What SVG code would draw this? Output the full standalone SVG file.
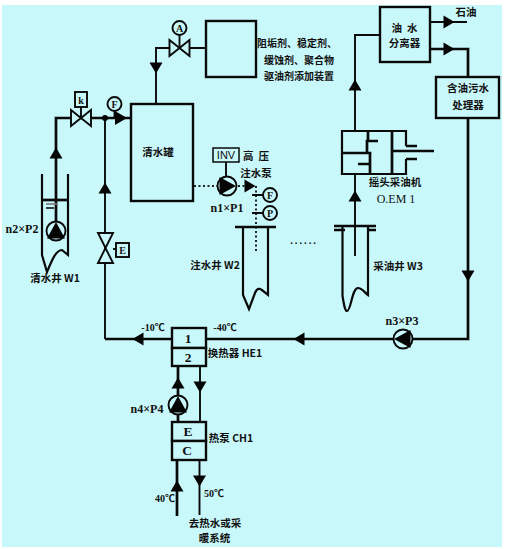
<svg xmlns="http://www.w3.org/2000/svg" xmlns:xlink="http://www.w3.org/1999/xlink" width="505" height="549" viewBox="0 0 505 549">
<style>
.l{fill:none;stroke:#0a0a0a;stroke-width:1.9}
.t{fill:none;stroke:#0a0a0a;stroke-width:2.7}
.w{fill:none;stroke:#0a0a0a;stroke-width:2.2}
.b{fill:#c9f8fa;stroke:#0a0a0a;stroke-width:2.4}
.c{fill:#c9f8fa;stroke:#0a0a0a;stroke-width:1.9}
.d{fill:none;stroke:#222;stroke-width:2;stroke-dasharray:2 2.5}
.a{fill:#050505}
text{font-family:"Noto Sans CJK SC","Liberation Serif",serif;font-size:10.5px;font-weight:700;fill:#111;text-anchor:middle}
.s{font-family:"Liberation Serif","Noto Sans CJK SC",serif}
.n{font-size:12px}
.g{font-size:10px}
.h{font-size:13.5px}
</style>
<defs>
<path id="ah" class="a" d="M-5.500,-6.500L5.500,0L-5.500,6.500Z"/>
<path id="valve" class="c" d="M-10,-8L10,8V-8L-10,8Z"/>
<g id="pump"><circle r="9.500" class="c"/><path class="a" d="M-7.500,-9L9,0L-7.500,9Z"/></g>
</defs>
<rect width="505" height="549" fill="#fff"/>
<rect x="2" y="5" width="500" height="542" fill="#c9f8fa"/>
<g id="connectors">
<path class="l" d="M206,48H156V104"/>
<path class="t" d="M131,118H56V225"/>
<path class="l" d="M105,118V339"/>
<path class="t" d="M172,339H105M206,339H468V118"/>
<path class="t" d="M430,49H468V77"/>
<path class="l" d="M430,22H467"/>
<path class="l" d="M380,35H355V131M355,174V256"/>
<path class="t" d="M178,366V422M177,460V516"/>
<path class="l" d="M200,366V422M199.500,460V515"/>
<path class="d" d="M194,186H217M238,186H246M256,186V252"/>
<path class="l" d="M226,162V176M252,195H263M252,213H263"/>
<use href="#ah" transform="translate(156,68) rotate(90)"/>
<path class="a" d="M115,111L127,118L115,125Z"/>
<use href="#ah" transform="translate(56,153) rotate(-90)"/>
<use href="#ah" transform="translate(105,188) rotate(-90)"/>
<use href="#ah" transform="translate(138,339) rotate(180)"/>
<use href="#ah" transform="translate(299,339) rotate(180)"/>
<use href="#ah" transform="translate(468,276) rotate(90)"/>
<use href="#ah" transform="translate(449,22)"/>
<use href="#ah" transform="translate(449,49)"/>
<use href="#ah" transform="translate(355,85) rotate(-90)"/>
<use href="#ah" transform="translate(355,196) rotate(-90)"/>
<use href="#ah" transform="translate(250,186)"/>
<use href="#ah" transform="translate(178,383) rotate(-90)"/>
<use href="#ah" transform="translate(200,387) rotate(90)"/>
<use href="#ah" transform="translate(177,486) rotate(-90)"/>
<use href="#ah" transform="translate(199.500,481) rotate(90)"/>
<circle cx="105" cy="118" r="3" class="a"/>
</g>
<g id="additive-box"><rect x="206" y="21" width="50" height="56" class="b"/>
<text class="g" x="297" y="47">阻垢剂、稳定剂、</text><text class="g" x="299" y="64">缓蚀剂、聚合物</text><text class="g" x="299" y="80">驱油剂添加装置</text></g>
<g id="valve-a"><use href="#valve" transform="translate(179.500,48)"/><path class="l" d="M179.500,35V48"/><circle cx="179.500" cy="28" r="7" class="c"/><text class="s g" x="179.500" y="32">A</text></g>
<g id="valve-k"><use href="#valve" transform="translate(81,118)"/><path class="l" d="M81,107V118"/><rect x="75" y="92" width="12" height="15" class="c"/><text class="s g" x="81" y="104">k</text></g>
<g id="gauge-f1"><circle cx="114.500" cy="104" r="7" class="c"/><path class="l" d="M114.500,111V118"/><text class="s g" x="114.500" y="108">F</text></g>
<g id="tank"><rect x="131" y="104" width="62" height="97" class="b"/><text x="158" y="156">清水罐</text></g>
<g id="well-w1"><path class="w" d="M42,174V255L47,272C52,260 56,250 62,250L68,255V174"/><path class="t" d="M42,200H68"/><path d="M46,204H58" stroke="#777" stroke-width="1.600"/><path d="M46,208H54" stroke="#111" stroke-width="1.600"/><use href="#pump" transform="translate(56,231) rotate(-90)"/><text x="55" y="282">清水井 W1</text><text class="s n" x="22" y="233">n2×P2</text></g>
<g id="valve-e"><path class="c" d="M98,233H113L98,263H113Z"/><path class="l" d="M113,249H116"/><rect x="116" y="243" width="13" height="14" class="c"/><text class="s g" x="122.500" y="254">E</text></g>
<g id="pump-p1"><rect x="213" y="148" width="26" height="14" class="c" style="stroke-width:1.500"/><text x="226" y="159" style="font-family:'Liberation Sans',sans-serif;font-weight:400;font-size:11px">INV</text><use href="#pump" transform="translate(227,186)"/><text class="s n" x="227" y="212">n1×P1</text><text x="256" y="160" xml:space="preserve">高  压</text><text x="256" y="177">注水泵</text></g>
<g id="gauge-f2"><circle cx="270" cy="195" r="7" class="c"/><text class="s g" x="270" y="199">F</text></g>
<g id="gauge-p"><circle cx="270" cy="213" r="7" class="c"/><text class="s g" x="270" y="217">P</text></g>
<g id="well-w2"><path class="t" d="M235,227H276"/><path class="w" d="M268,227V295C262,290 258,285 255,293L249,309L243,295V227"/><text x="215" y="269">注水井 W2</text></g>
<text class="s" x="304" y="244" style="letter-spacing:2px">......</text>
<g id="well-w3"><path class="t" d="M334,226H376M334,230H345M367,230H376"/><path class="w" d="M342.500,226V296C344,305 345,311 347,311C351,311 352,288 358,288C362,288 364,292 368,295V226"/><text x="398" y="270">采油井 W3</text></g>
<g id="oem"><path class="w" d="M406,146V131H342V174H406V159"/>
<path class="t" d="M368,131V141H367V153H370V174M367,141H378M342,153H368M358,164H370M392,131V174"/>
<path class="t" d="M406,146H417M406,159H417"/><path class="t" d="M392,151H434"/>
<text x="395" y="186">摇头采油机</text><text class="s n" x="396" y="203" style="font-weight:400">O.EM 1</text></g>
<g id="separator"><rect x="380" y="7" width="50" height="55" class="b"/><text x="404.500" y="32" xml:space="preserve">油  水</text><text x="404.500" y="47">分离器</text><text x="466" y="16">石油</text></g>
<g id="processor"><rect x="436" y="77" width="63" height="41" class="b"/><text x="468" y="92">含油污水</text><text x="468" y="109">处理器</text></g>
<g id="pump-p3"><use href="#pump" transform="translate(403,339) rotate(180)"/><text class="s n" x="402" y="325">n3×P3</text></g>
<g id="he1"><rect x="172" y="328" width="34" height="20" class="b"/><rect x="172" y="348" width="34" height="18" class="b"/><text class="s h" x="188" y="343">1</text><text class="s h" x="188" y="362">2</text><text x="235" y="357">换热器 HE1</text><text class="s g" x="153" y="331">-10℃</text><text class="s g" x="225" y="331">-40℃</text></g>
<g id="pump-p4"><use href="#pump" transform="translate(178,405) rotate(-90)"/><text class="s n" x="147" y="413">n4×P4</text></g>
<g id="ch1"><rect x="172" y="422" width="34" height="19" class="b"/><rect x="172" y="441" width="34" height="19" class="b"/><text class="s h" x="188" y="436">E</text><text class="s h" x="187" y="455">C</text><text x="231" y="442">热泵 CH1</text></g>
<text class="s g" x="165" y="502">40℃</text>
<text class="s g" x="214" y="497">50℃</text>
<text x="215" y="527">去热水或采</text>
<text x="214.500" y="542">暖系统</text>
</svg>
